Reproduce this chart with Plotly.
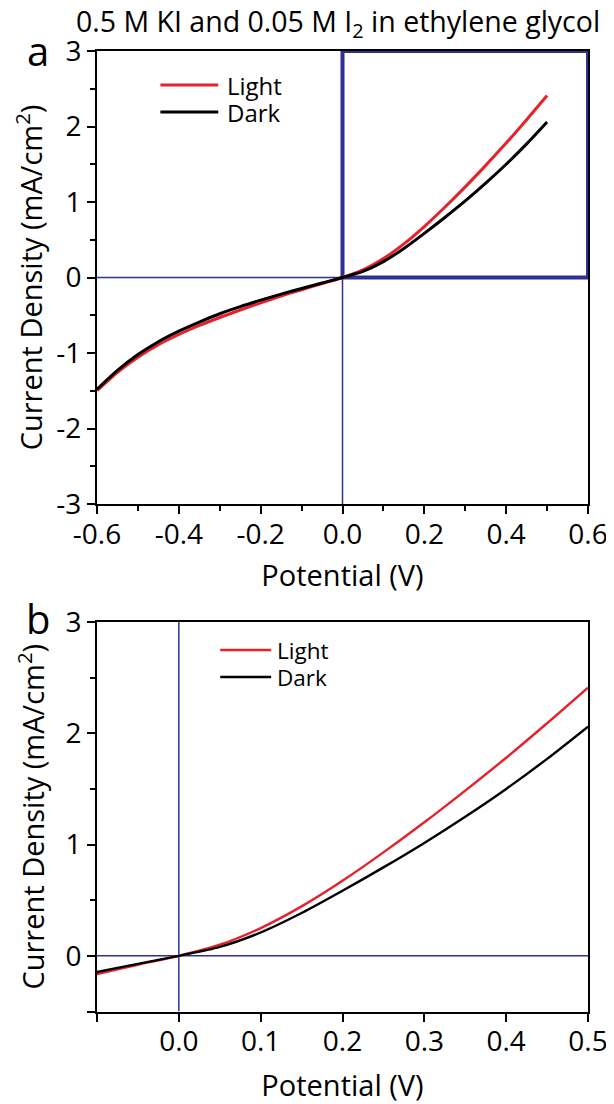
import plotly.graph_objects as go

potential = [-0.6, -0.55, -0.5, -0.45, -0.4, -0.35, -0.3, -0.25, -0.2, -0.15, -0.1, -0.05,
             0.0, 0.05, 0.1, 0.15, 0.2, 0.25, 0.3, 0.35, 0.4, 0.45, 0.5]
light = [-1.50, -1.255, -1.055, -0.89, -0.755, -0.635, -0.53, -0.43, -0.335, -0.245, -0.163, -0.08,
         0.0, 0.10, 0.25, 0.445, 0.675, 0.93, 1.20, 1.485, 1.78, 2.09, 2.41]
dark = [-1.48, -1.23, -1.02, -0.85, -0.71, -0.59, -0.48, -0.385, -0.30, -0.22, -0.145, -0.072,
        0.0, 0.08, 0.21, 0.385, 0.585, 0.795, 1.015, 1.25, 1.50, 1.77, 2.06]
series_names = ["Light", "Dark"]

top_xticks = [-0.6, -0.4, -0.2, 0.0, 0.2, 0.4, 0.6]
top_xlabels = ["-0.6", "-0.4", "-0.2", "0.0", "0.2", "0.4", "0.6"]
top_yticks = [-3, -2, -1, 0, 1, 2, 3]
top_ylabels = ["-3", "-2", "-1", "0", "1", "2", "3"]
bot_xticks = [-0.1, 0.0, 0.1, 0.2, 0.3, 0.4, 0.5]
bot_xlabels = [" ", "0.0", "0.1", "0.2", "0.3", "0.4", "0.5"]
bot_yticks = [-0.5, 0, 1, 2, 3]
bot_ylabels = [" ", "0", "1", "2", "3"]

RED = "#E8202A"
BLUE = "#2E3192"
FONT = "Open Sans"

W, H = 606, 1096
L, PW = 88.5, 492


def px(x):
    return (x - L) / PW


def py(y):
    return 1 - y / H


fig = go.Figure()
fig.add_trace(go.Scatter(x=potential, y=light, mode="lines", name=series_names[0],
                         line=dict(color=RED, width=3, shape="spline", smoothing=0.8),
                         xaxis="x", yaxis="y", showlegend=False))
fig.add_trace(go.Scatter(x=potential, y=dark, mode="lines", name=series_names[1],
                         line=dict(color="black", width=3, shape="spline", smoothing=0.8),
                         xaxis="x", yaxis="y", showlegend=False))
fig.add_trace(go.Scatter(x=potential, y=light, mode="lines", name=series_names[0],
                         line=dict(color=RED, width=2.4, shape="spline", smoothing=0.8),
                         xaxis="x2", yaxis="y2", showlegend=False))
fig.add_trace(go.Scatter(x=potential, y=dark, mode="lines", name=series_names[1],
                         line=dict(color="black", width=2.4, shape="spline", smoothing=0.8),
                         xaxis="x2", yaxis="y2", showlegend=False))

# reference lines
shapes = [
    dict(type="line", xref="x", yref="y", x0=-0.6, x1=0.6, y0=0, y1=0,
         line=dict(color=BLUE, width=1.5), layer="below"),
    dict(type="line", xref="x", yref="y", x0=0, x1=0, y0=-3, y1=3,
         line=dict(color=BLUE, width=1.5), layer="below"),
    dict(type="rect", xref="x", yref="y", x0=0, x1=0.6, y0=0, y1=3,
         line=dict(color=BLUE, width=4), layer="below"),
    dict(type="line", xref="x2", yref="y2", x0=-0.1, x1=0.5, y0=0, y1=0,
         line=dict(color=BLUE, width=1.5), layer="below"),
    dict(type="line", xref="x2", yref="y2", x0=0, x1=0, y0=-0.5, y1=3,
         line=dict(color=BLUE, width=1.5), layer="below"),
]

# legends (drawn by hand to match compact spacing)
annotations = []
legend_specs = [
    # x0, x1, text_x, y_first, spacing, width, font size
    (152, 210, 217, 77, 27, 3, 24),
    (212, 263, 267, 642, 27, 2.6, 22.5),
]
for x0, x1, tx, y0, dy, lw, fs in legend_specs:
    for i, (name, col) in enumerate(zip(series_names, [RED, "black"])):
        yy = y0 + i * dy
        shapes.append(dict(type="line", xref="paper", yref="paper", x0=px(x0), x1=px(x1),
                           y0=py(yy), y1=py(yy), line=dict(color=col, width=lw)))
        annotations.append(dict(text=name, xref="paper", yref="paper", x=px(tx), y=py(yy),
                                xanchor="left", yanchor="middle", showarrow=False,
                                font=dict(family=FONT, size=fs, color="black")))

annotations += [
    dict(text="0.5 M KI and 0.05 M I<sub>2</sub> in ethylene glycol", xref="paper", yref="paper",
         x=px(330), y=py(14.5), xanchor="center", yanchor="middle", showarrow=False,
         font=dict(family=FONT, size=28.5, color="black")),
    dict(text="a", xref="paper", yref="paper", x=px(29.5), y=py(42),
         xanchor="center", yanchor="middle", showarrow=False, font=dict(family=FONT, size=40, color="black")),
    dict(text="b", xref="paper", yref="paper", x=px(29.5), y=py(610),
         xanchor="center", yanchor="middle", showarrow=False, font=dict(family=FONT, size=40, color="black")),
]

axis_common = dict(showgrid=False, zeroline=False, showline=True, linecolor="black",
                   linewidth=2, mirror=True, ticks="outside", ticklen=8, tickwidth=2,
                   tickcolor="black", automargin=False,
                   tickfont=dict(family=FONT, size=28, color="black"))

ytitle = "Current Density (mA/cm<sup>2</sup>)"
TFONT = dict(family=FONT, size=29, color="black")

fig.update_layout(
    width=W, height=H,
    margin=dict(l=L, r=W - L - PW, t=0, b=0),
    paper_bgcolor="white", plot_bgcolor="white",
    font=dict(family=FONT, color="black"),
    showlegend=False,
    shapes=shapes,
    annotations=annotations,
    xaxis=dict(axis_common, domain=[0, 1], anchor="y", range=[-0.6, 0.6],
               tickvals=top_xticks, ticktext=top_xlabels, ticklabelstandoff=-4,
               minor=dict(dtick=0.1, ticks="outside", ticklen=5, tickwidth=2, tickcolor="black"),
               title=dict(text="Potential (V)", font=TFONT, standoff=15)),
    yaxis=dict(axis_common, domain=[py(496), py(43)], anchor="x", range=[-3, 3],
               tickvals=top_yticks, ticktext=top_ylabels,
               minor=dict(dtick=0.5, ticks="outside", ticklen=5, tickwidth=2, tickcolor="black"),
               title=dict(text=ytitle, font=TFONT, standoff=12)),
    xaxis2=dict(axis_common, domain=[0, 1], anchor="y2", range=[-0.1, 0.5],
                tickvals=bot_xticks, ticktext=bot_xlabels, ticklabelstandoff=-4,
                title=dict(text="Potential (V)", font=TFONT, standoff=19)),
    yaxis2=dict(axis_common, domain=[py(1003.5), py(614)], anchor="x2", range=[-0.5, 3],
                tickvals=bot_yticks, ticktext=bot_ylabels,
                minor=dict(tickvals=[0.5, 1.5, 2.5], ticks="outside", ticklen=5, tickwidth=2, tickcolor="black"),
                title=dict(text=ytitle, font=TFONT, standoff=12)),
)

fig.write_html("out.html")
